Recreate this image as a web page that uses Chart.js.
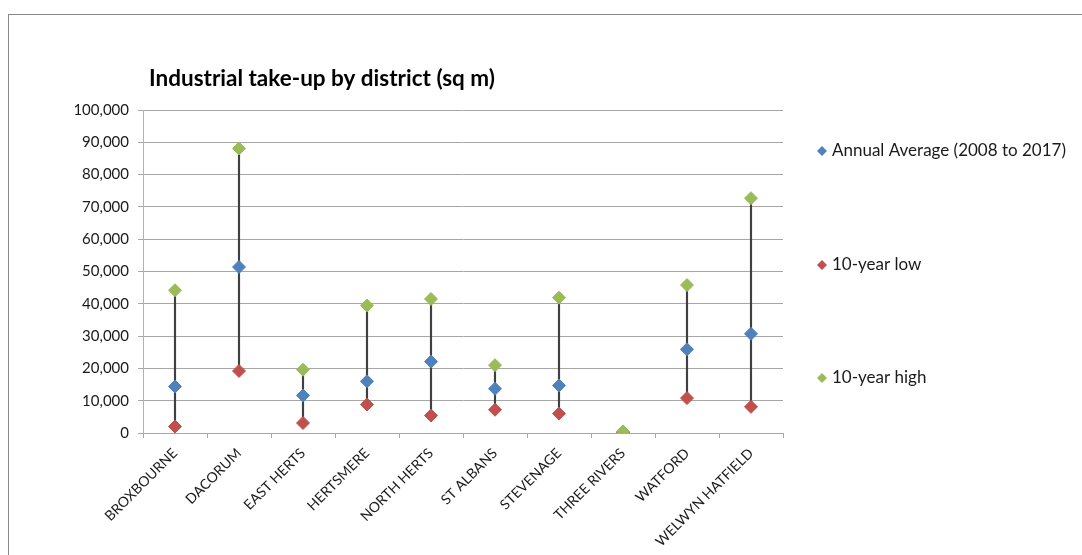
<!DOCTYPE html>
<html>
<head>
<meta charset="utf-8">
<title>Industrial take-up by district</title>
<script src="https://cdn.jsdelivr.net/npm/chart.js@4/dist/chart.umd.min.js"></script>
<style>
  html, body { margin: 0; padding: 0; background: #fff; overflow: hidden; }
  #frame { position: absolute; left: 8px; top: 14px; width: 1120px; height: 600px; border: 1px solid #8a8a8a; }
  #takeUpChart { position: absolute; left: 0; top: 0; }
</style>
</head>
<body>
<div id="frame"></div>
<canvas id="takeUpChart" width="1082" height="555"></canvas>
<script>
// districts and take-up figures (sq m)
const districts = ["BROXBOURNE", "DACORUM", "EAST HERTS", "HERTSMERE", "NORTH HERTS",
                   "ST ALBANS", "STEVENAGE", "THREE RIVERS", "WATFORD", "WELWYN HATFIELD"];
const annualAvg = [14400, 51400, 11600, 16000, 22100, 13700, 14700, 350, 25900, 30700];
const low10     = [2000, 19200, 3100, 8800, 5400, 7200, 6000, 200, 10800, 8100];
const high10    = [44200, 88100, 19600, 39500, 41500, 21000, 41900, 500, 45800, 72700];
const yTickValues = [0, 10000, 20000, 30000, 40000, 50000, 60000, 70000, 80000, 90000, 100000];

const chartTitle = "Industrial take-up by district (sq m)";
const seriesNames = ["Annual Average (2008 to 2017)", "10-year low", "10-year high"];
const seriesColors = ["#4f81bd", "#c0504d", "#9bbb59"];

const FONT = "Lato, 'Open Sans', sans-serif";
Chart.defaults.font.family = FONT;
Chart.defaults.color = "#1a1a1a";

function markerSet(idx, values, order){
    return {
        type: "line", label: seriesNames[idx], data: values, order: order,
        showLine: false, pointStyle: "rectRot",
        pointRadius: 6.5, pointHoverRadius: 6.5, pointBorderWidth: 1,
        backgroundColor: seriesColors[idx], borderColor: seriesColors[idx]
    };
}

// title top-left and legend on the right, drawn by hand so they sit where they should
const sideLegend = {
    id: "sideLegend",
    afterDraw(chart){
        const ctx = chart.ctx;
        ctx.save();
        ctx.fillStyle = "#000";
        ctx.font = "bold 22.5px " + FONT;
        ctx.textBaseline = "alphabetic";
        ctx.fillText(chartTitle, 149, 86);

        const rows = [151, 265, 378];
        ctx.font = "17px " + FONT;
        ctx.textBaseline = "middle";
        seriesNames.forEach((name, i) => {
            const x = 822, y = rows[i], r = 5;
            ctx.fillStyle = seriesColors[i];
            ctx.beginPath();
            ctx.moveTo(x - r, y); ctx.lineTo(x, y - r); ctx.lineTo(x + r, y); ctx.lineTo(x, y + r);
            ctx.closePath(); ctx.fill();
            ctx.fillStyle = "#1a1a1a";
            ctx.fillText(name, 832, y);
        });
        ctx.restore();
    }
};

const ctx = document.getElementById("takeUpChart").getContext("2d");
new Chart(ctx, {
    type: "bar",
    data: {
        labels: districts,
        datasets: [
            markerSet(2, high10, 1),
            markerSet(1, low10, 2),
            markerSet(0, annualAvg, 3),
            // high-low lines
            { type: "bar", label: "range", data: low10.map((l, i) => [l, high10[i]]), order: 4,
              barThickness: 1.5, backgroundColor: "#404040", borderWidth: 0 }
        ]
    },
    options: {
        responsive: false,
        animation: false,
        locale: "en-US",
        layout: { padding: { top: 110, right: 299, bottom: 0, left: 0 } },
        plugins: {
            legend: { display: false },
            tooltip: { enabled: false }
        },
        scales: {
            x: {
                offset: true,
                afterFit: s => { s.height = 122; },
                grid: { display: true, drawOnChartArea: false, offset: true, tickLength: 5, color: "#a6a6a6" },
                border: { color: "#a6a6a6" },
                ticks: { minRotation: 45, maxRotation: 45, autoSkip: false, font: { size: 14 }, padding: 7 }
            },
            y: {
                min: 0, max: 100000,
                afterFit: s => { s.width = 143; },
                afterBuildTicks: axis => { axis.ticks = yTickValues.map(v => ({ value: v })); },
                grid: { color: "#a6a6a6", tickLength: 5 },
                border: { color: "#b4b4b4" },
                ticks: { font: { size: 15 }, padding: 9 }
            }
        }
    },
    plugins: [sideLegend]
});
</script>
</body>
</html>
